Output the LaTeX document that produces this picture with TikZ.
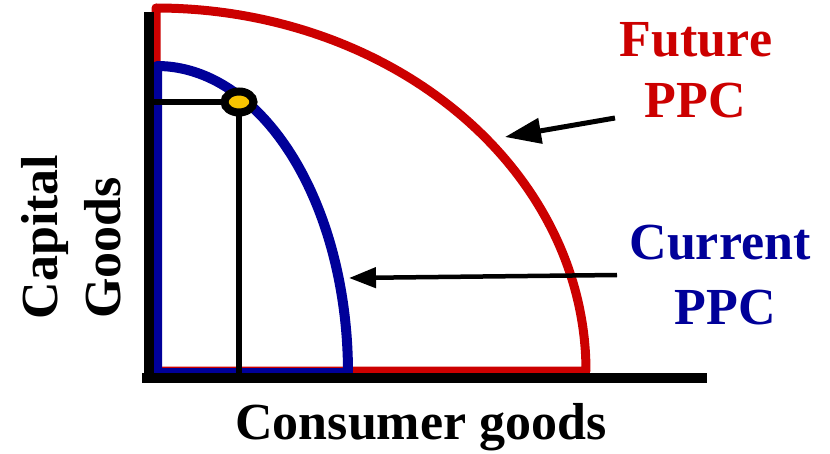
\documentclass[tikz,border=0pt]{standalone}
\usepackage{fontspec}
\setmainfont{Liberation Serif}
\usetikzlibrary{arrows.meta,shapes.geometric}
\definecolor{ppcred}{RGB}{204,0,0}
\definecolor{ppcblue}{RGB}{0,0,153}
\definecolor{ptyellow}{RGB}{248,196,0}
\tikzset{
  lbl/.style={font=\fontsize{52}{60}\selectfont\bfseries, inner sep=0pt, anchor=base},
  curve/.style={line width=#1, line join=round},
  axis/.style={line width=10pt, black},
  guide/.style={line width=6pt, black},
  pointer/.style={line width=#1, black},
}
\begin{document}
\begin{tikzpicture}[x=1pt,y=-1pt]
\useasboundingbox[fill=white] (0,0) rectangle (830,454);
% future PPC
\draw[curve=9pt, ppcred] (156,371) -- plot[domain=90:0, samples=90] ({156+430*cos(\x)}, {371-363*sin(\x)}) -- cycle;
% current PPC
\draw[curve=10pt, ppcblue] (157,373) -- plot[domain=90:0, samples=90] ({157+191*cos(\x)}, {373-307*sin(\x)}) -- cycle;
% axes
\coordinate (ytop) at (149,12);
\coordinate (ybot) at (149,383);
\coordinate (xl) at (142,378);
\coordinate (xr) at (707,378);
\draw[axis] (ytop) -- (ybot);
\draw[axis] (xl) -- (xr);
% point
\coordinate (yfoot) at (154,102);
\coordinate (xfoot) at (240,373);
\node[ellipse, draw=black, line width=8pt, fill=ptyellow, minimum width=29pt, minimum height=21pt, inner sep=0pt] (pt) at (239,102) {};
\draw[guide] (yfoot) -- (pt.west);
\draw[guide] (pt.south) -- (pt.south |- xfoot);
% labels
\node[lbl, ppcred] (fut1) at (696,57) {Future};
\node[lbl, ppcred] (fut2) at (695,118) {PPC};
\node[lbl, ppcblue] (cur1) at (720,260) {Current};
\node[lbl, ppcblue] (cur2) at (725,325) {PPC};
\node[lbl] (cons) at (421,439) {Consumer goods};
\node[lbl, rotate=90] (cap1) at (57,237) {Capital};
\node[lbl, rotate=90] (cap2) at (120,248) {Goods};
% arrows
\coordinate (ftail) at (615,118);
\coordinate (fhead) at (505,137);
\coordinate (ctail) at (617,275);
\coordinate (chead) at (349,278);
\draw[pointer=5pt, -{Triangle[length=36pt,width=25pt]}] (ftail) -- (fhead);
\draw[pointer=4.5pt, -{Triangle[length=27pt,width=20pt]}] (ctail) -- (chead);
\end{tikzpicture}
\end{document}
